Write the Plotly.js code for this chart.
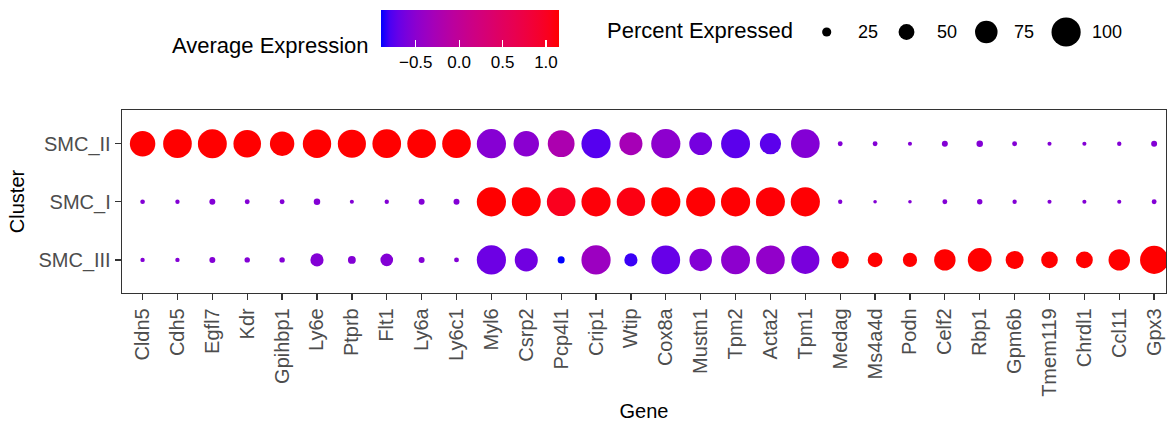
<!DOCTYPE html>
<html>
<head>
<meta charset="utf-8">
<script src="https://cdn.plot.ly/plotly-3.0.1.min.js"></script>
<style>html,body{margin:0;padding:0;background:#fff;}#chart{width:1169px;height:423px;}</style>
</head>
<body>
<div id="chart"></div>
<script>
// ---------------- data ----------------
const genes = ["Cldn5","Cdh5","Egfl7","Kdr","Gpihbp1","Ly6e","Ptprb","Flt1","Ly6a","Ly6c1",
               "Myl6","Csrp2","Pcp4l1","Crip1","Wtip","Cox8a","Mustn1","Tpm2","Acta2","Tpm1",
               "Medag","Ms4a4d","Podn","Celf2","Rbp1","Gpm6b","Tmem119","Chrdl1","Ccl11","Gpx3"];
const clusters = ["SMC_III","SMC_I","SMC_II"];   // bottom to top

const pctSMC_II  = [86,98,99,94,82,97,96,98,98,98,
                    100,86,91,100,77,100,76,99,70,98,
                    9,9,6,13,15,9,6,6,7,13];
const pctSMC_I   = [8,7,13,9,9,15,6,7,13,13,
                    100,99,98,100,97,100,100,100,99,100,
                    7,4,4,9,11,7,6,6,6,9];
const pctSMC_III = [7,7,13,11,11,40,20,38,13,9,
                    100,77,17,100,40,98,75,99,98,96,
                    55,46,44,71,80,58,53,54,71,96];

const avgSMC_II  = [1.15,1.15,1.15,1.15,1.15,1.15,1.15,1.15,1.15,1.15,
                    -0.53,-0.51,-0.22,-0.76,-0.28,-0.49,-0.63,-0.74,-0.74,-0.55,
                    -0.55,-0.55,-0.55,-0.55,-0.55,-0.55,-0.55,-0.55,-0.55,-0.55];
const avgSMC_I   = [-0.55,-0.55,-0.55,-0.55,-0.55,-0.55,-0.55,-0.55,-0.55,-0.55,
                    1.15,1.14,1.02,1.12,1.08,1.15,1.14,1.14,1.13,1.14,
                    -0.55,-0.55,-0.55,-0.55,-0.55,-0.55,-0.55,-0.55,-0.55,-0.55];
const avgSMC_III = [-0.55,-0.55,-0.55,-0.55,-0.55,-0.55,-0.55,-0.55,-0.55,-0.55,
                    -0.67,-0.65,-0.90,-0.37,-0.82,-0.70,-0.55,-0.49,-0.45,-0.61,
                    1.15,1.15,1.15,1.15,1.15,1.15,1.15,1.15,1.15,1.15];

const colorMin = -0.9, colorMax = 1.15;
const colorTicks = [-0.5, 0.0, 0.5, 1.0];
const sizeBreaks = [25, 50, 75, 100];

// ---------------- scales ----------------
function sizeScale(p){ return 2.5 + 0.267 * p; }

// blue -> red gradient interpolated in CIELAB (like ggplot2)
function toLin(c){ c/=255; return c<=0.04045? c/12.92 : Math.pow((c+0.055)/1.055,2.4); }
function toSrgb(c){ c = c<=0.0031308? 12.92*c : 1.055*Math.pow(c,1/2.4)-0.055; return Math.round(Math.max(0,Math.min(1,c))*255); }
function rgb2lab(r,g,b){
  r=toLin(r); g=toLin(g); b=toLin(b);
  let X=(0.4124*r+0.3576*g+0.1805*b)/0.95047, Y=(0.2126*r+0.7152*g+0.0722*b), Z=(0.0193*r+0.1192*g+0.9505*b)/1.08883;
  const f=t=> t>0.008856? Math.cbrt(t) : 7.787*t+16/116;
  const fx=f(X), fy=f(Y), fz=f(Z);
  return [116*fy-16, 500*(fx-fy), 200*(fy-fz)];
}
function lab2rgb(L,a,b){
  const fy=(L+16)/116, fx=fy+a/500, fz=fy-b/200;
  const fi=t=> t*t*t>0.008856? t*t*t : (t-16/116)/7.787;
  const X=fi(fx)*0.95047, Y=fi(fy), Z=fi(fz)*1.08883;
  const r= 3.2406*X-1.5372*Y-0.4986*Z, g=-0.9689*X+1.8758*Y+0.0415*Z, bb=0.0557*X-0.2040*Y+1.0570*Z;
  return 'rgb('+toSrgb(r)+','+toSrgb(g)+','+toSrgb(bb)+')';
}
const labLo = rgb2lab(0,0,255), labHi = rgb2lab(255,0,0);
const colorscale = [];
for(let i=0;i<=20;i++){
  const t=i/20;
  colorscale.push([t, lab2rgb(labLo[0]+(labHi[0]-labLo[0])*t, labLo[1]+(labHi[1]-labLo[1])*t, labLo[2]+(labHi[2]-labLo[2])*t)]);
}

// ---------------- traces ----------------
const xs=[], ys=[], sizes=[], cols=[];
const rows = [["SMC_III",pctSMC_III,avgSMC_III],["SMC_I",pctSMC_I,avgSMC_I],["SMC_II",pctSMC_II,avgSMC_II]];
rows.forEach(([cl,pct,avg])=>{
  genes.forEach((g,i)=>{
    xs.push(g); ys.push(cl); sizes.push(sizeScale(pct[i])); cols.push(avg[i]);
  });
});

const FONT = "Liberation Sans, Arial, sans-serif";

// plot area in pixels: x 122..1166, y 5..293
const PL=122, PR=1166, PT=5, PB=293;
const px = v => (v-PL)/(PR-PL);
const py = v => (PB-v)/(PB-PT);

const dots = {
  type:'scatter', mode:'markers', x:xs, y:ys, xaxis:'x', yaxis:'y',
  hoverinfo:'x+y',
  marker:{
    size:sizes, sizemode:'diameter', color:cols, cmin:colorMin, cmax:colorMax,
    colorscale:colorscale, line:{width:0}, opacity:1,
    colorbar:{
      orientation:'h', xref:'paper', yref:'paper',
      x:px(381), xanchor:'left', y:py(10), yanchor:'top',
      len:178, lenmode:'pixels', thickness:37, thicknessmode:'pixels',
      xpad:0, ypad:0, outlinewidth:0,
      tickvals:colorTicks, tickformat:'.1f',
      ticks:'inside', ticklen:7, tickcolor:'#ffffff', tickwidth:1.2,
      tickfont:{family:FONT, size:17, color:'#000'}
    }
  },
  showlegend:false
};

// size legend keys (pixel coords on helper axes)
const keyX0 = 826.7, keyStep = 79.8, keyY = 32;
const legend = {
  type:'scatter', mode:'markers', xaxis:'x2', yaxis:'y2',
  x: sizeBreaks.map((b,i)=>keyX0+i*keyStep), y: sizeBreaks.map(()=>keyY),
  marker:{size:sizeBreaks.map(sizeScale), sizemode:'diameter', color:'#000', opacity:1, line:{width:0}},
  hoverinfo:'skip', showlegend:false, cliponaxis:false
};
const labelX = [856, 935, 1011.7, 1090];

const annotations = [
  {xref:'x2', yref:'y2', x:170, y:45, xanchor:'left', yanchor:'middle', showarrow:false,
   text:'Average Expression', font:{family:FONT, size:22, color:'#000'}},
  {xref:'x2', yref:'y2', x:605, y:30, xanchor:'left', yanchor:'middle', showarrow:false,
   text:'Percent Expressed', font:{family:FONT, size:22, color:'#000'}}
];
sizeBreaks.forEach((b,i)=>annotations.push({xref:'x2', yref:'y2', x:labelX[i], y:keyY, xanchor:'left', yanchor:'middle',
  showarrow:false, text:String(b), font:{family:FONT, size:18, color:'#000'}}));

const layout = {
  width:1169, height:423,
  margin:{l:PL, r:1169-PR, t:PT, b:423-PB, pad:0, autoexpand:false},
  paper_bgcolor:'#fff', plot_bgcolor:'#fff',
  font:{family:FONT},
  xaxis:{
    type:'category', categoryorder:'array', categoryarray:genes,
    range:[-0.59, 29.34], domain:[0,1],
    showgrid:false, zeroline:false,
    showline:true, mirror:true, linecolor:'#333', linewidth:1.3,
    ticks:'outside', ticklen:6, tickcolor:'#333', tickwidth:1.3,
    tickangle:-90, tickfont:{family:FONT, size:20, color:'#4d4d4d'},
    title:{text:'Gene', font:{family:FONT, size:20, color:'#000'}, standoff:8},
    fixedrange:true
  },
  yaxis:{
    type:'category', categoryorder:'array', categoryarray:clusters,
    range:[-0.57, 2.58], domain:[0, py(110)],
    showgrid:false, zeroline:false,
    showline:true, mirror:true, linecolor:'#333', linewidth:1.3,
    ticks:'outside', ticklen:6, tickcolor:'#333', tickwidth:1.3,
    tickfont:{family:FONT, size:20, color:'#4d4d4d'},
    title:{text:'Cluster', font:{family:FONT, size:20, color:'#000'}, standoff:8},
    fixedrange:true
  },
  xaxis2:{domain:[0,1], range:[PL,PR], visible:false, fixedrange:true, anchor:'y2'},
  yaxis2:{domain:[py(77),1], range:[77,PT], visible:false, fixedrange:true, anchor:'x2'},
  annotations:annotations,
  showlegend:false
};

Plotly.newPlot('chart', [dots, legend], layout, {displayModeBar:false, staticPlot:true});
</script>
</body>
</html>
